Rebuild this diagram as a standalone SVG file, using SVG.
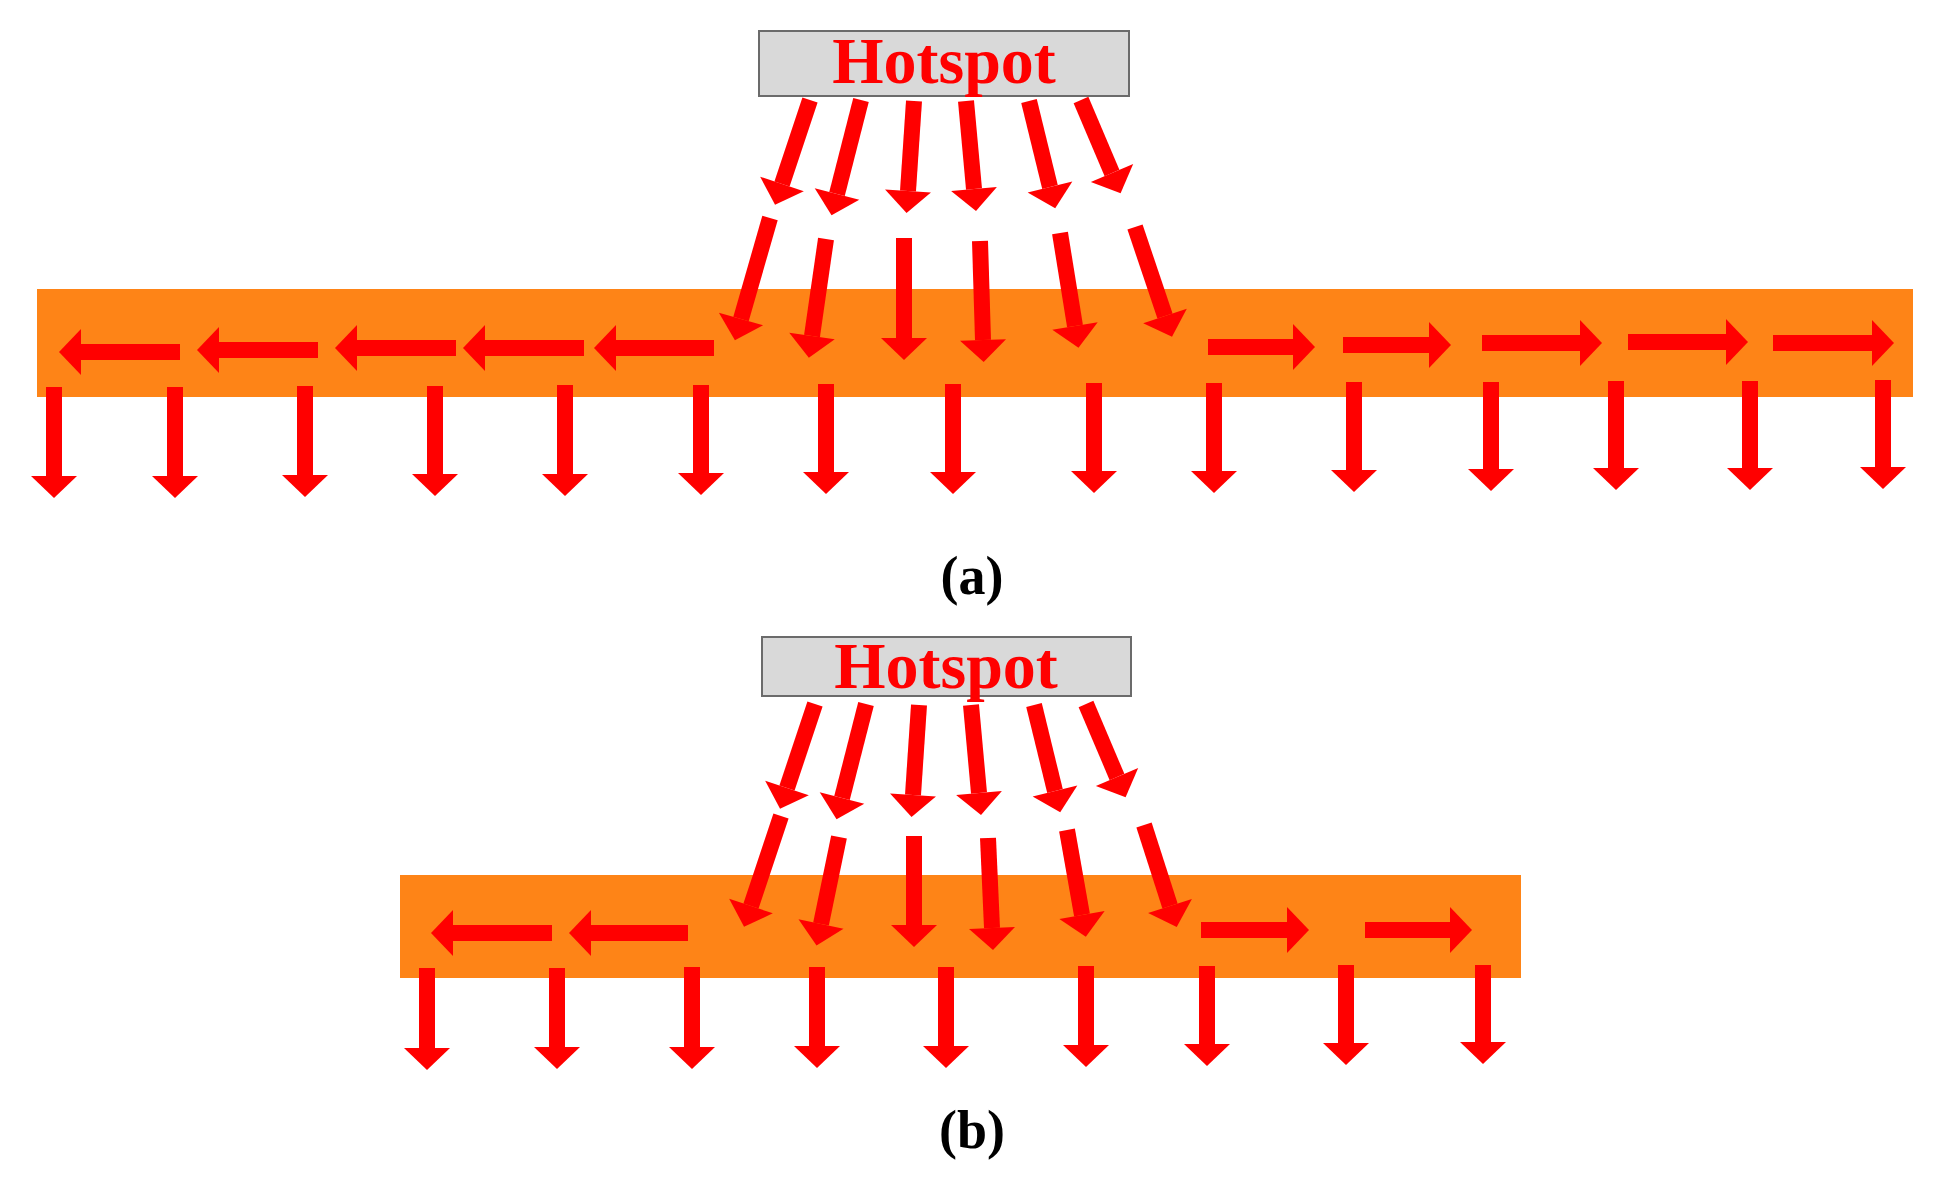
<svg xmlns="http://www.w3.org/2000/svg" width="1941" height="1187" viewBox="0 0 1941 1187">
<style>
.band{fill:#fe8417}
.box{fill:#d9d9d9;stroke:#6b6b6b;stroke-width:2}
.hs{font-family:"Liberation Serif",serif;font-weight:bold;font-size:66px;fill:#ff0000;text-anchor:middle}
.lbl{font-family:"Liberation Serif",serif;font-weight:bold;font-size:54px;fill:#000;text-anchor:middle}
.a line{stroke:#ff0000;stroke-width:16;marker-end:url(#h)}
</style>
<defs>
<marker id="h" markerUnits="userSpaceOnUse" viewBox="0 -23 22 46" markerWidth="22" markerHeight="46" refX="0" refY="0" orient="auto" overflow="visible">
<path d="M0,-23 L22,0 L0,23 Z" fill="#ff0000"/>
</marker>
</defs>
<rect fill="#fff" width="1941" height="1187"/>
<g id="band-a"><rect class="band" x="37" y="289" width="1876" height="108"/></g>
<g id="hotspot-a"><rect class="box" x="759" y="31" width="370" height="65"/><text class="hs" x="944" y="83">Hotspot</text></g>
<g id="band-b"><rect class="band" x="400" y="875" width="1121" height="103"/></g>
<g id="hotspot-b"><rect class="box" x="762" y="637" width="369" height="59"/><text class="hs" x="946" y="688">Hotspot</text></g>
<g id="connectors" class="a">
<g id="upper-a">
<line x1="810" y1="100" x2="782" y2="184"/>
<line x1="861" y1="100" x2="837" y2="194"/>
<line x1="914" y1="101" x2="908" y2="191"/>
<line x1="966" y1="101" x2="974" y2="189"/>
<line x1="1029" y1="101" x2="1050" y2="187"/>
<line x1="1081" y1="100" x2="1112" y2="173"/>
</g>
<line x1="770" y1="218" x2="741" y2="319"/>
<line x1="826" y1="239" x2="812" y2="336"/>
<line x1="904" y1="238" x2="904" y2="338"/>
<line x1="980" y1="241" x2="983" y2="340"/>
<line x1="1060" y1="233" x2="1075" y2="326"/>
<line x1="1135" y1="227" x2="1165" y2="316"/>
<line x1="180" y1="352" x2="81" y2="352"/>
<line x1="318" y1="350" x2="219" y2="350"/>
<line x1="456" y1="348" x2="357" y2="348"/>
<line x1="584" y1="348" x2="485" y2="348"/>
<line x1="714" y1="348" x2="616" y2="348"/>
<line x1="1208" y1="347" x2="1293" y2="347"/>
<line x1="1343" y1="345" x2="1429" y2="345"/>
<line x1="1482" y1="343" x2="1580" y2="343"/>
<line x1="1628" y1="342" x2="1726" y2="342"/>
<line x1="1773" y1="343" x2="1872" y2="343"/>
<line x1="54" y1="387" x2="54" y2="476"/>
<line x1="175" y1="387" x2="175" y2="476"/>
<line x1="305" y1="386" x2="305" y2="475"/>
<line x1="435" y1="386" x2="435" y2="474"/>
<line x1="565" y1="385" x2="565" y2="474"/>
<line x1="701" y1="385" x2="701" y2="473"/>
<line x1="826" y1="384" x2="826" y2="472"/>
<line x1="953" y1="384" x2="953" y2="472"/>
<line x1="1094" y1="383" x2="1094" y2="471"/>
<line x1="1214" y1="383" x2="1214" y2="471"/>
<line x1="1354" y1="382" x2="1354" y2="470"/>
<line x1="1491" y1="382" x2="1491" y2="469"/>
<line x1="1616" y1="381" x2="1616" y2="468"/>
<line x1="1750" y1="381" x2="1750" y2="468"/>
<line x1="1883" y1="380" x2="1883" y2="467"/>
<g transform="translate(5,604)">
<line x1="810" y1="100" x2="782" y2="184"/>
<line x1="861" y1="100" x2="837" y2="194"/>
<line x1="914" y1="101" x2="908" y2="191"/>
<line x1="966" y1="101" x2="974" y2="189"/>
<line x1="1029" y1="101" x2="1050" y2="187"/>
<line x1="1081" y1="100" x2="1112" y2="173"/>
</g>
<line x1="781" y1="816" x2="751" y2="906"/>
<line x1="839" y1="837" x2="821" y2="924"/>
<line x1="914" y1="836" x2="914" y2="925"/>
<line x1="988" y1="838" x2="992" y2="928"/>
<line x1="1067" y1="830" x2="1082" y2="915"/>
<line x1="1144" y1="825" x2="1170" y2="906"/>
<line x1="552" y1="933" x2="453" y2="933"/>
<line x1="688" y1="933" x2="591" y2="933"/>
<line x1="1201" y1="930" x2="1287" y2="930"/>
<line x1="1365" y1="930" x2="1450" y2="930"/>
<line x1="427" y1="968" x2="427" y2="1048"/>
<line x1="557" y1="968" x2="557" y2="1047"/>
<line x1="692" y1="967" x2="692" y2="1047"/>
<line x1="817" y1="967" x2="817" y2="1046"/>
<line x1="946" y1="967" x2="946" y2="1046"/>
<line x1="1086" y1="966" x2="1086" y2="1045"/>
<line x1="1207" y1="966" x2="1207" y2="1044"/>
<line x1="1346" y1="965" x2="1346" y2="1043"/>
<line x1="1483" y1="965" x2="1483" y2="1042"/>
</g>
<text class="lbl" x="972" y="594">(a)</text>
<text class="lbl" x="972" y="1148">(b)</text>
</svg>
